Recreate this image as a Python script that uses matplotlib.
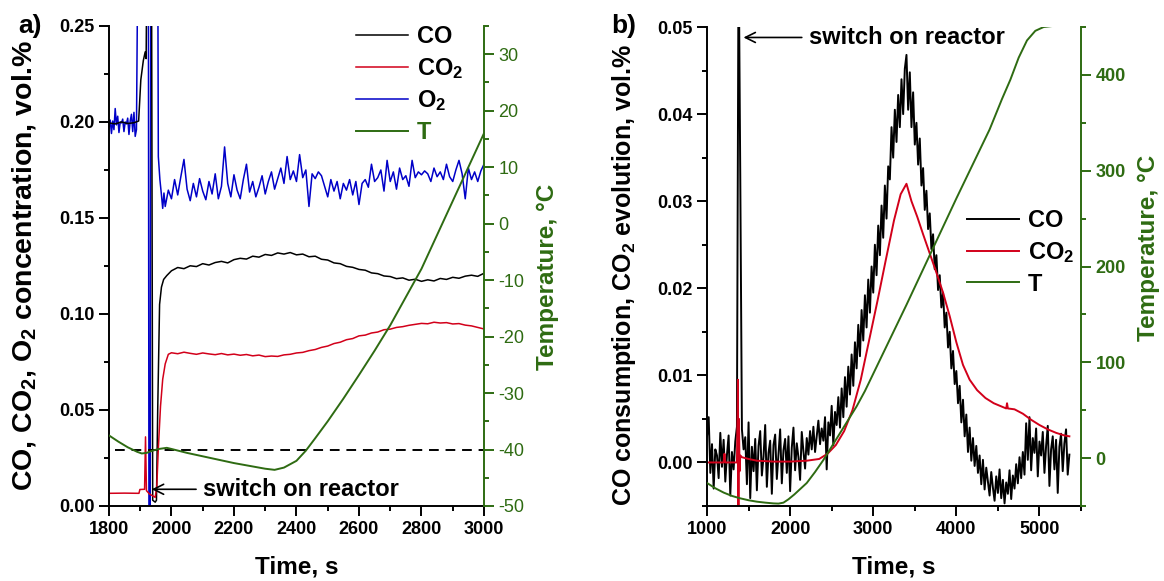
import numpy as np
import matplotlib.pyplot as plt
from matplotlib.ticker import MultipleLocator, FormatStrFormatter

plt.rcParams['font.family'] = ['Liberation Sans', 'DejaVu Sans']
plt.rcParams['font.weight'] = 'bold'
plt.rcParams['axes.labelweight'] = 'bold'
plt.rcParams['mathtext.default'] = 'regular'
plt.rcParams['axes.unicode_minus'] = False

GREEN = '#2e6b12'
RED = '#d2001a'
BLUE = '#0000c8'

# ---------------- panel a) data ----------------
# CO, vol.%  (before switch-on, jump, then 20 s samples)
co_a_t_pre = [1800, 1820, 1840, 1860, 1880, 1895, 1902, 1910, 1916, 1919,
              1922, 1936, 1940, 1948, 1952, 1956, 1962, 1968, 1975, 1985]
co_a_pre = [0.1995, 0.1990, 0.2000, 0.1992, 0.1996, 0.2005, 0.2220, 0.2320, 0.2365, 0.2330,
            0.3000, 0.3000, 0.0030, 0.0020, 0.0030, 0.0500, 0.1050, 0.1140, 0.1180, 0.1200]
co_a_t_post = np.arange(2000, 3001, 20)
co_a_post = [0.1225, 0.1242, 0.1236, 0.1251, 0.1247, 0.1262, 0.1255, 0.1268, 0.1274, 0.1266,
             0.1283, 0.1290, 0.1286, 0.1301, 0.1296, 0.1310, 0.1305, 0.1318, 0.1312, 0.1320,
             0.1308, 0.1312, 0.1298, 0.1301, 0.1285, 0.1281, 0.1266, 0.1262, 0.1248, 0.1243,
             0.1232, 0.1228, 0.1214, 0.1210, 0.1198, 0.1195, 0.1184, 0.1188, 0.1176, 0.1181,
             0.1170, 0.1178, 0.1172, 0.1185, 0.1180, 0.1191, 0.1186, 0.1197, 0.1202, 0.1196,
             0.1212]

# CO2, vol.%
co2_a_t_pre = [1800, 1850, 1896, 1899, 1914, 1917, 1920, 1930, 1943, 1948,
               1953, 1958, 1965, 1972, 1980, 1990]
co2_a_pre = [0.0066, 0.0067, 0.0066, 0.0086, 0.0087, 0.0360, 0.0080, 0.0062, 0.0050, 0.0045,
             0.0100, 0.0300, 0.0520, 0.0660, 0.0740, 0.0790]
co2_a_t_post = np.arange(2000, 3001, 20)
co2_a_post = [0.0798, 0.0793, 0.0801, 0.0795, 0.0790, 0.0797, 0.0792, 0.0788, 0.0794, 0.0787,
              0.0791, 0.0785, 0.0789, 0.0782, 0.0786, 0.0778, 0.0781, 0.0779, 0.0787, 0.0790,
              0.0797, 0.0800, 0.0809, 0.0815, 0.0826, 0.0833, 0.0846, 0.0853, 0.0866, 0.0872,
              0.0886, 0.0890, 0.0901, 0.0906, 0.0918, 0.0921, 0.0930, 0.0934, 0.0941, 0.0946,
              0.0951, 0.0949, 0.0957, 0.0953, 0.0955, 0.0948, 0.0950, 0.0942, 0.0938, 0.0930,
              0.0922]

# O2, vol.%
o2_a_t_pre = np.arange(1800, 1889, 4)
o2_a_pre = [0.1975, 0.2010, 0.1940, 0.2005, 0.1960, 0.2070, 0.1985, 0.2030, 0.1945, 0.2000,
            0.1995, 0.2015, 0.1950, 0.2000, 0.1990, 0.2020, 0.1935, 0.2005, 0.2040, 0.1950,
            0.2050, 0.1925, 0.1960]
o2_a_t_mid = [1893, 1926, 1928, 1932, 1934, 1956, 1958, 1963, 1968, 1972, 1976]
o2_a_mid = [0.300, 0.300, -0.010, -0.010, 0.300, 0.300, 0.182, 0.170, 0.162, 0.155, 0.163]
o2_a_t_post = np.arange(1980, 3001, 10)
o2_a_post = [0.1560, 0.1645, 0.1600, 0.1700, 0.1620, 0.1715, 0.1805, 0.1650, 0.1590, 0.1680,
             0.1610, 0.1705, 0.1640, 0.1595, 0.1690, 0.1625, 0.1730, 0.1600, 0.1665, 0.1870,
             0.1680, 0.1610, 0.1725, 0.1645, 0.1600, 0.1700, 0.1780, 0.1635, 0.1690, 0.1610,
             0.1660, 0.1720, 0.1625, 0.1690, 0.1740, 0.1650, 0.1705, 0.1760, 0.1680, 0.1820,
             0.1700, 0.1745, 0.1690, 0.1830, 0.1710, 0.1750, 0.1560, 0.1730, 0.1705, 0.1740,
             0.1720, 0.1665, 0.1610, 0.1700, 0.1640, 0.1690, 0.1600, 0.1680, 0.1645, 0.1700,
             0.1620, 0.1690, 0.1570, 0.1680, 0.1700, 0.1660, 0.1780, 0.1690, 0.1710, 0.1750,
             0.1640, 0.1800, 0.1690, 0.1740, 0.1650, 0.1760, 0.1700, 0.1720, 0.1665, 0.1800,
             0.1710, 0.1740, 0.1725, 0.1745, 0.1730, 0.1690, 0.1760, 0.1715, 0.1740, 0.1700,
             0.1780, 0.1715, 0.1690, 0.1750, 0.1800, 0.1730, 0.1600, 0.1760, 0.1700, 0.1740,
             0.1690, 0.1745, 0.1780]

# Temperature, degC
t_a_t = [1800, 1830, 1860, 1890, 1905, 1920, 1940, 1960, 1985, 2000,
         2050, 2100, 2150, 2200, 2250, 2300, 2330, 2360, 2400, 2430,
         2460, 2500, 2550, 2600, 2650, 2700, 2750, 2800, 2850, 2900,
         2950, 3000]
t_a = [-37.5, -38.6, -39.6, -40.4, -40.7, -40.6, -40.2, -39.9, -39.7, -39.9,
       -40.6, -41.2, -41.8, -42.4, -42.9, -43.4, -43.6, -43.2, -42.0, -40.2,
       -38.0, -35.0, -31.0, -26.8, -22.5, -18.0, -13.0, -8.0, -2.0, 4.0,
       10.0, 16.0]
t_a_ref = -40  # dashed reference level
t_a_ref_span = (1820, 3000)

# ---------------- panel b) data ----------------
co_b_t = np.arange(1000, 5361, 20)
co_b = [0.0030, 0.0052, -0.0012, 0.0021, -0.0030, 0.0015, 0.0008, -0.0018, 0.0034, -0.0005,
        0.0026, -0.0022, 0.0009, 0.0031, -0.0038, 0.0012, -0.0008, 0.0024, 0.0041, 0.0600,
        0.0330, 0.0038, 0.0015, 0.0029, -0.0025, 0.0046, -0.0041, 0.0018, -0.0010, 0.0027,
        -0.0032, 0.0019, 0.0036, -0.0015, 0.0007, 0.0043, -0.0028, 0.0011, 0.0025, -0.0036,
        0.0020, 0.0032, -0.0019, 0.0009, 0.0038, -0.0024, 0.0014, 0.0027, -0.0012, 0.0030,
        -0.0033, 0.0017, 0.0040, -0.0009, 0.0022, 0.0006, -0.0020, 0.0035, 0.0013, -0.0007,
        0.0028, 0.0009, 0.0036, 0.0015, 0.0041, 0.0012, 0.0030, 0.0048, 0.0021, 0.0039,
        0.0025, 0.0052, -0.0008, 0.0046, 0.0031, 0.0065, 0.0020, 0.0058, 0.0043, 0.0075,
        0.0040, 0.0085, 0.0052, 0.0098, 0.0064, 0.0110, 0.0078, 0.0124, 0.0088, 0.0138,
        0.0108, 0.0158, 0.0122, 0.0175, 0.0140, 0.0192, 0.0155, 0.0210, 0.0172, 0.0225,
        0.0195, 0.0250, 0.0215, 0.0272, 0.0238, 0.0295, 0.0258, 0.0318, 0.0280, 0.0340,
        0.0325, 0.0385, 0.0350, 0.0405, 0.0368, 0.0422, 0.0385, 0.0440, 0.0400, 0.0452,
        0.0468, 0.0405, 0.0448, 0.0385, 0.0425, 0.0365, 0.0390, 0.0342, 0.0372, 0.0318,
        0.0338, 0.0290, 0.0312, 0.0268, 0.0286, 0.0245, 0.0262, 0.0222, 0.0238, 0.0198,
        0.0215, 0.0178, 0.0195, 0.0155, 0.0172, 0.0132, 0.0150, 0.0108, 0.0128, 0.0090,
        0.0105, 0.0068, 0.0088, 0.0046, 0.0072, 0.0030, 0.0055, 0.0012, 0.0040, 0.0002,
        0.0028, -0.0004, 0.0019, -0.0012, 0.0008, -0.0025, 0.0003, -0.0031, -0.0006, -0.0022,
        -0.0038, -0.0011, -0.0029, -0.0044, -0.0016, -0.0035, -0.0008, -0.0041, -0.0020, -0.0047,
        -0.0023, -0.0036, -0.0009, -0.0042, -0.0015, -0.0030, -0.0002, -0.0024, 0.0006, -0.0018,
        0.0012, -0.0014, 0.0045, 0.0003, 0.0052, -0.0009, 0.0028, 0.0011, 0.0039, -0.0016,
        0.0024, 0.0008, 0.0035, -0.0012, 0.0019, 0.0042, -0.0027, 0.0015, 0.0030, -0.0008,
        0.0026, -0.0035, 0.0018, 0.0033, -0.0010, 0.0022, 0.0038, -0.0014, 0.0009]

co2_b_t = [1000, 1200, 1210, 1220, 1360, 1372, 1378, 1384, 1392, 1400,
           1420, 1500, 1600, 1800, 2000, 2200, 2350, 2450, 2550, 2650,
           2750, 2850, 2950, 3050, 3150, 3250, 3330, 3400, 3460, 3530,
           3600, 3680, 3760, 3840, 3920, 4000, 4080, 4160, 4250, 4350,
           4450, 4550, 4600, 4610, 4620, 4700, 4800, 4900, 5000, 5100,
           5200, 5300, 5360]
co2_b = [0.0000, 0.0000, 0.0010, 0.0000, 0.0000, 0.0095, -0.0060, 0.0050, -0.0010, 0.0008,
         0.0006, 0.0004, 0.0002, 0.0001, 0.0001, 0.0002, 0.0004, 0.0010, 0.0020, 0.0036,
         0.0060, 0.0095, 0.0140, 0.0185, 0.0232, 0.0278, 0.0308, 0.0320, 0.0300, 0.0282,
         0.0262, 0.0240, 0.0218, 0.0195, 0.0168, 0.0138, 0.0112, 0.0095, 0.0083, 0.0074,
         0.0068, 0.0064, 0.0062, 0.0068, 0.0062, 0.0061, 0.0056, 0.0049, 0.0043, 0.0038,
         0.0034, 0.0031, 0.0030]

t_b_t = [1000, 1100, 1200, 1300, 1400, 1500, 1600, 1700, 1800, 1860,
         1920, 1980, 2050, 2100, 2200, 2300, 2400, 2500, 2600, 2700,
         2800, 2900, 3000, 3200, 3400, 3600, 3800, 4000, 4200, 4400,
         4550, 4650, 4750, 4850, 4950, 5050, 5150, 5300, 5500]
t_b = [-26, -31.5, -36, -39.5, -42, -44, -45.5, -46.5, -47.3, -47.5,
       -46.5, -43, -38, -34, -26, -14.5, -2, 12, 26, 40,
       54, 70, 88, 124, 160, 197, 234, 271, 307, 343,
       375, 395, 418, 436, 446, 450, 451, 452, 452]

# annotation anchors (time, vol.%, text start time)
switch_a = (1937, 0.0087, 2101)
switch_b = (1439, 0.0488, 2224)

# ---------------- figure ----------------
fig = plt.figure(figsize=(11.64, 5.81), dpi=100)
ax_a = fig.add_axes([0.0936, 0.1291, 0.3222, 0.8262])
ax_b = fig.add_axes([0.6074, 0.1291, 0.3213, 0.8244])
ax_a2 = ax_a.twinx()
ax_b2 = ax_b.twinx()

lw = 1.1
l_o2, = ax_a.plot(np.concatenate([o2_a_t_pre, o2_a_t_mid, o2_a_t_post]),
                  np.concatenate([o2_a_pre, o2_a_mid, o2_a_post]), color=BLUE, lw=lw)
l_co, = ax_a.plot(np.concatenate([co_a_t_pre, co_a_t_post]),
                  np.concatenate([co_a_pre, co_a_post]), color='black', lw=lw)
l_co2, = ax_a.plot(np.concatenate([co2_a_t_pre, co2_a_t_post]),
                   np.concatenate([co2_a_pre, co2_a_post]), color=RED, lw=lw)
ax_a2.hlines(t_a_ref, *t_a_ref_span, colors='black', linestyles=(0, (5, 3.5)), lw=1.4)
l_t, = ax_a2.plot(t_a_t, t_a, color=GREEN, lw=1.4)

lb_co, = ax_b.plot(co_b_t, co_b, color='black', lw=1.4)
lb_co2, = ax_b.plot(co2_b_t, co2_b, color=RED, lw=1.4)
lb_t, = ax_b2.plot(t_b_t, t_b, color=GREEN, lw=1.4)

# axes styling
for ax, ax2 in [(ax_a, ax_a2), (ax_b, ax_b2)]:
    ax.spines['top'].set_visible(False)
    ax.spines['right'].set_visible(False)
    for s in ['top', 'left', 'bottom']:
        ax2.spines[s].set_visible(False)
    for s in ['left', 'bottom']:
        ax.spines[s].set_linewidth(1.4)
    ax2.spines['right'].set_linewidth(1.4)
    ax2.spines['right'].set_color(GREEN)
    ax.tick_params(which='major', length=7, width=1.4, labelsize=13, direction='out')
    ax.tick_params(which='minor', length=3.6, width=1.4, direction='out')
    ax2.tick_params(which='major', length=7, width=1.4, labelsize=13, colors=GREEN)
    ax2.tick_params(which='minor', length=3.6, width=1.4, colors=GREEN)
    ax.yaxis.set_major_formatter(FormatStrFormatter('%.2f'))
    ax.set_xlabel('Time, s', fontsize=17.5, fontweight='bold')
    ax.xaxis.set_label_coords(0.5, -0.104)
    ax.xaxis.label.set_va('top')
    ax2.set_ylabel('Temperature, °C', fontsize=17.5, fontweight='bold', color=GREEN)

ax_a.set_xlim(1800, 3000)
ax_a.set_ylim(0, 0.25)
ax_a.xaxis.set_major_locator(MultipleLocator(200))
ax_a.xaxis.set_minor_locator(MultipleLocator(100))
ax_a.yaxis.set_major_locator(MultipleLocator(0.05))
ax_a.yaxis.set_minor_locator(MultipleLocator(0.025))
ax_a2.set_ylim(-50, 35)
ax_a2.yaxis.set_major_locator(MultipleLocator(10))
ax_a2.yaxis.set_minor_locator(MultipleLocator(5))
plt.setp(ax_a2.get_yticklabels(), fontweight='normal')
ax_a.set_ylabel('CO, CO$_2$, O$_2$ concentration, vol.%', fontsize=20.5, fontweight='bold')
ax_a.yaxis.set_label_coords(-0.19, 0.502)
ax_a2.yaxis.set_label_coords(1.138, 0.477)

ax_b.set_xlim(1000, 5500)
ax_b.set_ylim(-0.005, 0.05)
ax_b.xaxis.set_major_locator(MultipleLocator(1000))
ax_b.xaxis.set_minor_locator(MultipleLocator(500))
ax_b.yaxis.set_major_locator(MultipleLocator(0.01))
ax_b.yaxis.set_minor_locator(MultipleLocator(0.005))
ax_b2.set_ylim(-50, 450)
ax_b2.yaxis.set_major_locator(MultipleLocator(100))
ax_b2.yaxis.set_minor_locator(MultipleLocator(50))
ax_b.set_ylabel('CO consumption, CO$_2$ evolution, vol.%', fontsize=18, fontweight='bold')
ax_b.yaxis.set_label_coords(-0.185, 0.482)
ax_b2.yaxis.set_label_coords(1.15, 0.539)

# legends
leg_kw = dict(loc='upper left', frameon=False, prop={'size': 17, 'weight': 'bold'},
              handlelength=2.2, handletextpad=0.38, labelspacing=0.33,
              borderpad=0, borderaxespad=0)
leg_a = ax_a2.legend([l_co, l_co2, l_o2, l_t], ['CO', 'CO$_2$', 'O$_2$', 'T'],
                     bbox_to_anchor=(0.659, 1.002), **leg_kw)
leg_a.get_texts()[3].set_color(GREEN)
ax_b2.legend([lb_co, lb_co2, lb_t], ['CO', 'CO$_2$', 'T'],
             bbox_to_anchor=(0.695, 0.620), **leg_kw)

# switch-on annotations
arrow = dict(arrowstyle='->', color='black', lw=1.2, mutation_scale=18, shrinkA=3, shrinkB=0)
ax_a.annotate('switch on reactor', xy=(switch_a[0], switch_a[1]), xytext=(switch_a[2], switch_a[1]),
              va='center', ha='left', fontsize=17, arrowprops=arrow)
ax_b.annotate('switch on reactor', xy=(switch_b[0], switch_b[1]), xytext=(switch_b[2], switch_b[1]),
              va='center', ha='left', fontsize=17, arrowprops=arrow)

fig.text(0.016, 0.943, 'a)', fontsize=19, va='baseline')
fig.text(0.525, 0.943, 'b)', fontsize=19, va='baseline')

fig.savefig('out.png', dpi=100)
